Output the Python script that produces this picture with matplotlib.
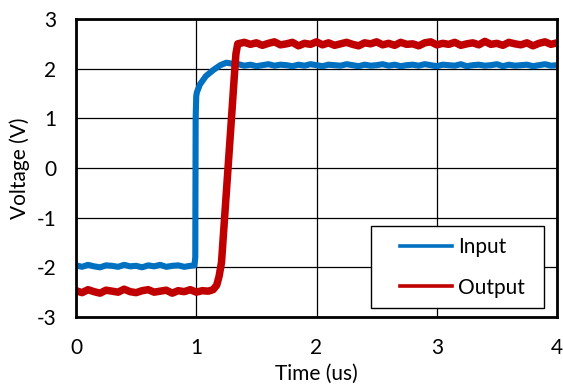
import matplotlib
matplotlib.use("Agg")
import numpy as np
import matplotlib.pyplot as plt
from matplotlib.lines import Line2D

plt.rcParams['font.family'] = ['Lato', 'DejaVu Sans']
plt.rcParams['axes.unicode_minus'] = False

# Input waveform (time in us, voltage in V)
input_time = [
    0.00, 0.05, 0.10, 0.15, 0.20, 0.25, 0.30, 0.35, 0.40, 0.45,
    0.50, 0.55, 0.60, 0.65, 0.70, 0.75, 0.80, 0.85, 0.90, 0.95,
    0.985, 0.992, 0.995, 1.000, 1.005, 1.03, 1.08, 1.14, 1.20, 1.25,
    1.30,
    1.35, 1.40, 1.45, 1.50, 1.55, 1.60, 1.65, 1.70, 1.75, 1.80,
    1.85, 1.90, 1.95, 2.00, 2.05, 2.10, 2.15, 2.20, 2.25, 2.30,
    2.35, 2.40, 2.45, 2.50, 2.55, 2.60, 2.65, 2.70, 2.75, 2.80,
    2.85, 2.90, 2.95, 3.00, 3.05, 3.10, 3.15, 3.20, 3.25, 3.30,
    3.35, 3.40, 3.45, 3.50, 3.55, 3.60, 3.65, 3.70, 3.75, 3.80,
    3.85, 3.90, 3.95, 4.00,
]
input_volt = [
    -1.96, -1.99, -1.95, -1.98, -2.00, -1.96, -1.97, -1.99, -1.95, -1.98,
    -1.97, -2.00, -1.96, -1.98, -1.95, -1.99, -1.97, -1.96, -1.99, -1.97,
    -1.96, -1.80, 1.00, 1.45, 1.52, 1.68, 1.85, 1.97, 2.07, 2.12,
    2.10,
    2.09, 2.06, 2.08, 2.05, 2.07, 2.09, 2.06, 2.08, 2.07, 2.05,
    2.08, 2.06, 2.09, 2.07, 2.05, 2.08, 2.07, 2.06, 2.09, 2.07,
    2.05, 2.08, 2.06, 2.07, 2.09, 2.06, 2.08, 2.05, 2.07, 2.08,
    2.06, 2.09, 2.07, 2.05, 2.08, 2.07, 2.06, 2.09, 2.05, 2.07,
    2.08, 2.06, 2.07, 2.09, 2.05, 2.08, 2.06, 2.07, 2.08, 2.05,
    2.07, 2.09, 2.06, 2.07,
]

# Output waveform (time in us, voltage in V)
output_time = [
    0.00, 0.05, 0.10, 0.15, 0.20, 0.25, 0.30, 0.35, 0.40, 0.45,
    0.50, 0.55, 0.60, 0.65, 0.70, 0.75, 0.80, 0.85, 0.90, 0.95,
    1.00, 1.05, 1.10,
    1.14, 1.17, 1.19, 1.21, 1.25, 1.29, 1.32, 1.33, 1.345,
    1.40, 1.45, 1.50, 1.55, 1.60, 1.65, 1.70, 1.75, 1.80, 1.85,
    1.90, 1.95, 2.00, 2.05, 2.10, 2.15, 2.20, 2.25, 2.30, 2.35,
    2.40, 2.45, 2.50, 2.55, 2.60, 2.65, 2.70, 2.75, 2.80, 2.85,
    2.90, 2.95, 3.00, 3.05, 3.10, 3.15, 3.20, 3.25, 3.30, 3.35,
    3.40, 3.45, 3.50, 3.55, 3.60, 3.65, 3.70, 3.75, 3.80, 3.85,
    3.90, 3.95, 4.00,
]
output_volt = [
    -2.47, -2.51, -2.45, -2.49, -2.52, -2.46, -2.48, -2.50, -2.44, -2.49,
    -2.51, -2.47, -2.45, -2.50, -2.48, -2.46, -2.52, -2.47, -2.49, -2.45,
    -2.50, -2.47, -2.48,
    -2.45, -2.36, -2.18, -1.90, -0.50, 0.90, 1.97, 2.30, 2.50,
    2.53, 2.49, 2.52, 2.47, 2.51, 2.54, 2.48, 2.50, 2.53, 2.46,
    2.51, 2.49, 2.54, 2.48, 2.52, 2.47, 2.50, 2.53, 2.49, 2.46,
    2.52, 2.50, 2.54, 2.48, 2.51, 2.47, 2.53, 2.49, 2.50, 2.46,
    2.52, 2.54, 2.48, 2.51, 2.49, 2.53, 2.47, 2.50, 2.52, 2.48,
    2.55, 2.49, 2.51, 2.47, 2.53, 2.50, 2.48, 2.52, 2.46, 2.51,
    2.54, 2.49, 2.52,
]

x_ticks = [0, 1, 2, 3, 4]
y_ticks = [-3, -2, -1, 0, 1, 2, 3]

BLUE = '#0070C0'
RED = '#C00000'
FS = 15

fig = plt.figure(figsize=(5.63, 3.85), dpi=100)
ax = fig.add_axes([76 / 563, 1 - 317 / 385, 481 / 563, 298 / 385])

ax.plot(input_time, input_volt, color=BLUE, lw=4.4, solid_joinstyle='round',
        solid_capstyle='butt', label='Input', zorder=3)
ax.plot(output_time, output_volt, color=RED, lw=5.4, solid_joinstyle='round',
        solid_capstyle='butt', label='Output', zorder=3)

ax.set_xlim(0, 4)
ax.set_ylim(-3, 3)
ax.set_xticks(x_ticks)
ax.set_yticks(y_ticks)
ax.grid(True, color='black', lw=0.9, zorder=1)
ax.set_axisbelow(True)
ax.tick_params(length=0, labelsize=FS, colors='black')
ax.tick_params(axis='x', pad=15)
ax.tick_params(axis='y', pad=14)
for s in ax.spines.values():
    s.set_linewidth(2.0)
    s.set_color('black')
    s.set_zorder(4)

ax.set_xlabel('Time (us)', fontsize=FS, labelpad=4)
ax.set_ylabel('Voltage (V)', fontsize=FS, labelpad=5)

handles = [Line2D([], [], color=BLUE, lw=2.6), Line2D([], [], color=RED, lw=2.6)]
leg = ax.legend(handles, ['Input', 'Output'], loc='lower left',
                bbox_to_anchor=(0.613, 0.030, 0.360, 0.279), mode='expand',
                fontsize=FS, frameon=True, fancybox=False, framealpha=1,
                edgecolor='black', borderpad=0.5, labelspacing=1.0,
                handlelength=3.4, handletextpad=0.3, borderaxespad=0)
leg.get_frame().set_linewidth(1.0)
leg.set_zorder(5)
# shorten handles so they start further from the frame's left edge
for ln in leg.get_lines():
    xd = np.asarray(ln.get_xdata(), dtype=float)
    start = xd[0] + (xd[-1] - xd[0]) * 0.26
    ln.set_xdata(np.linspace(start, xd[-1], len(xd)))

fig.savefig('out.png', dpi=100)
